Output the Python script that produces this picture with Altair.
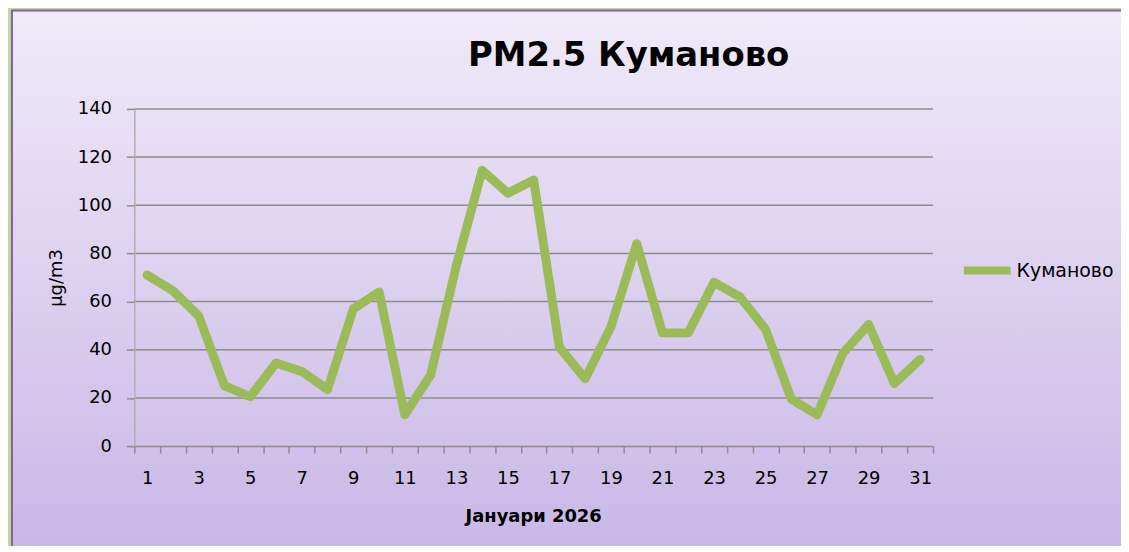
import altair as alt
import pandas as pd

days = list(range(1, 32))
values = [71, 64.5, 54, 25, 20.5, 34.5, 31, 23.5, 57, 64, 13, 29.5, 75, 114.5,
          105, 110.5, 41, 28, 49.5, 84, 47, 47, 68, 62, 48.5, 19.5, 13, 38.5,
          50.5, 26, 36]
series = "Куманово"
title_text = "PM2.5 Куманово"
x_title = "Јануари 2026"
y_title = "µg/m3"
y_ticks = [0, 20, 40, 60, 80, 100, 120, 140]
x_tick_bounds = [d - 0.5 for d in days] + [31.5]

df = pd.DataFrame({"day": days, "value": values, "series": [series] * len(days)})
grid_df = pd.DataFrame({"tick": y_ticks[1:]})
title_df = pd.DataFrame({"t": [title_text]})

FONT = "DejaVu Sans"
W, H = 803, 339

x_scale = alt.Scale(domain=[0.5, 31.5], nice=False, zero=False)
y_scale = alt.Scale(domain=[0, 140], nice=False)

y_axis = alt.Axis(values=y_ticks, grid=False, zindex=1,
                  tickSize=8, tickColor="#8c8c8c",
                  tickWidth=1.5, domainColor="#b0b0b0", domainWidth=1.5,
                  labelPadding=15, labelFont=FONT, labelFontSize=18,
                  labelColor="#000000",
                  title=y_title, titleFont=FONT, titleFontSize=18,
                  titleFontWeight="normal", titleColor="#000000",
                  titleX=-78, titleY=169.5, titleAngle=-90,
                  titleAlign="center", titleBaseline="middle")

x_axis = alt.Axis(values=x_tick_bounds, grid=False, zindex=1,
                  labelExpr="(datum.value + 0.5) % 2 == 1 ? format(datum.value + 0.5, 'd') : ''",
                  labelOffset=12.95, labelPadding=17,
                  tickSize=7, tickColor="#8c8c8c", tickWidth=1.5,
                  domainColor="#8c8c8c", domainWidth=1.5,
                  labelFont=FONT, labelFontSize=18, labelColor="#000000",
                  title=x_title, titleFont=FONT, titleFontSize=18,
                  titleFontWeight="bold", titleColor="#000000",
                  titleX=401, titleY=71, titleBaseline="middle",
                  labelFlush=False, labelOverlap=False)

bg = alt.Chart(pd.DataFrame({"a": [0]})).mark_rect(
    fill=alt.Gradient(
        gradient="linear",
        stops=[alt.GradientStop(color="#f0eaf9", offset=0),
               alt.GradientStop(color="#c7b6e5", offset=1)],
        x1=0, x2=0, y1=0, y2=1),
    stroke="#8064a2", strokeWidth=2,
).encode(
    x=alt.value(-123), x2=alt.value(1010),
    y=alt.value(-99), y2=alt.value(460),
)

grid = alt.Chart(grid_df).mark_rule(color="#8c8c8c", strokeWidth=1.5).encode(
    y=alt.Y("tick:Q", scale=y_scale, axis=y_axis),
    x=alt.value(0), x2=alt.value(W),
)

title = alt.Chart(title_df).mark_text(
    font=FONT, fontSize=34, fontWeight="bold", color="#000000",
    align="center", baseline="alphabetic",
).encode(text="t:N", x=alt.value(497), y=alt.value(-43))

line = alt.Chart(df).mark_line(
    strokeWidth=9, strokeCap="round", strokeJoin="round"
).encode(
    x=alt.X("day:Q", scale=x_scale, axis=x_axis),
    y=alt.Y("value:Q", scale=y_scale, axis=y_axis),
    color=alt.Color("series:N",
                    scale=alt.Scale(domain=[series], range=["#9bbb59"]),
                    legend=alt.Legend(orient="none", legendX=830, legendY=135,
                                      title=None, symbolType="stroke",
                                      symbolSize=2209, symbolStrokeWidth=8,
                                      labelFont=FONT, labelFontSize=19,
                                      labelColor="#000000", labelOffset=2,
                                      padding=0)),
)

chart = alt.layer(bg, grid, title, line).properties(
    width=W, height=H,
    autosize=alt.AutoSizeParams(type="none"),
    padding={"left": 127, "top": 100, "right": 189, "bottom": 99},
    background="#c3d69b",
).configure_view(stroke=None)

chart.save("out.html", embed_options={"renderer": "svg", "actions": False})
